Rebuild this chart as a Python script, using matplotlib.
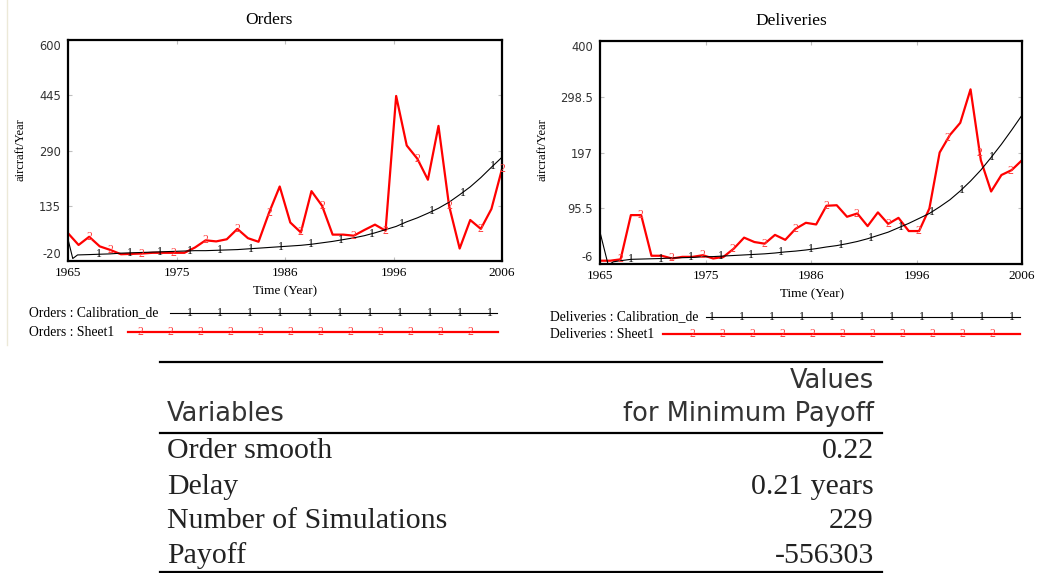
import numpy as np
import matplotlib
matplotlib.use("Agg")
import matplotlib.pyplot as plt

# ---- data ----
years = np.arange(1965, 2007)

orders_sheet = [58, 25, 48, 21, 11, -1, 0, 1, 3, 3,
                3, 3, 18, 38, 35, 41, 70, 44, 34, 116,
                189, 88, 60, 176, 135, 54, 54, 51, 67, 82,
                65, 443, 304, 267, 208, 359, 135, 15, 95, 70,
                126, 238]

calib_t = [1965, 1965.45, 1965.9] + list(range(1967, 2007))
orders_calib = [41, -13, -3,
                -2, -1, 0, 2, 3, 4, 5, 6, 7, 8,
                9, 9, 10, 11, 12, 14, 16, 18, 20, 22,
                24, 27, 31, 35, 40, 45, 51, 59, 68, 77,
                90, 101, 114, 128, 145, 166, 188, 214, 243, 271]

deliv_sheet = [0, 0, 2.5, 83, 83, 9, 9, 4, 7, 7,
               10, 4, 7, 22, 42, 34, 31, 47, 38, 58,
               69, 66, 100, 101, 80, 86, 63, 88, 67, 78,
               54, 54, 95, 197, 229, 251, 312, 183, 126, 156,
               165, 183]

deliv_calib_t = [1965, 1965.8, 1966.3] + list(range(1967, 2007))
deliv_calib = [52, -8, -2,
               0, 2.5, 3, 3.5, 4, 5, 5.5, 6, 7, 7.5,
               8.5, 9.5, 10.5, 11.5, 12.5, 14, 16, 17.5, 19.5, 22,
               25, 27.5, 31, 35, 40, 46, 52, 60, 68, 77,
               86, 98, 111, 127, 145, 165, 188, 212, 238, 265]

xtick_pos = [1965, 1975.25, 1985.5, 1995.75, 2006]
xtick_lbl = ["1965", "1975", "1986", "1996", "2006"]
orders_yticks = [-20, 135, 290, 445, 600]
orders_ylbl = ["-20", "135", "290", "445", "600"]
deliv_yticks = [-6, 95.5, 197, 298.5, 400]
deliv_ylbl = ["-6", "95.5", "197", "298.5", "400"]

table_vars = ["Order smooth", "Delay", "Number of Simulations", "Payoff"]
table_vals = ["0.22", "0.21 years", "229", "-556303"]

SERIF = "Liberation Serif"
W, H = 1041, 573
fig = plt.figure(figsize=(W / 100, H / 100), dpi=100)
fig.patch.set_facecolor("white")


def px_axes(l, t, r, b):
    return fig.add_axes([l / W, 1 - b / H, (r - l) / W, (b - t) / H])


def draw_panel(ax, t1, y1, m1, t2, y2, m2, yticks, ylbl):
    ax.plot(t1, y1, color="black", lw=0.8, zorder=3)
    ax.plot(t2, y2, color="#ff0000", lw=1.6, zorder=2)
    # vensim style number labels along the lines
    for m in m1:
        ax.text(m, np.interp(m, t1, y1), "1", color="black", fontsize=8.5,
                family=SERIF, ha="center", va="center", zorder=4)
    for m in m2:
        ax.text(m, np.interp(m, t2, y2), "2", color="#ff4040", fontsize=8.5,
                family=SERIF, ha="center", va="center", zorder=4)
    ax.set_xlim(1965, 2006)
    ax.set_ylim(yticks[0], yticks[-1])
    ax.set_xticks(xtick_pos)
    ax.set_xticklabels(xtick_lbl, family=SERIF, fontsize=9.5)
    ax.set_yticks(yticks)
    ax.set_yticklabels(ylbl, family="DejaVu Sans", fontsize=8.3, color="#333333")
    labs = ax.get_yticklabels()
    labs[0].set_va("bottom")
    labs[-1].set_va("top")
    ax.tick_params(direction="in", length=3, color="#c0c0c0", top=True, right=True, pad=5)
    ax.tick_params(axis="x", pad=4)
    for s in ax.spines.values():
        s.set_linewidth(1.6)


ax1 = px_axes(68, 40, 502, 261)
draw_panel(ax1, calib_t, orders_calib, np.arange(1967.94, 2006, 2.86),
           years, orders_sheet,
           [1967, 1969, 1971.9, 1975, 1978, 1981, 1984, 1987, 1989, 1992,
            1995, 1998, 2001, 2004, 2006],
           orders_yticks, orders_ylbl)

ax2 = px_axes(600, 41, 1022, 264)
draw_panel(ax2, deliv_calib_t, deliv_calib, np.arange(1968, 2004, 2.92),
           years, deliv_sheet,
           [1967, 1968.9, 1971.9, 1975, 1977.9, 1981, 1984, 1987, 1989.9,
            1993, 1995.9, 1998.8, 2001.9, 2004.9],
           deliv_yticks, deliv_ylbl)

# overlay in pixel coordinates for titles, legends and the table
ov = fig.add_axes([0, 0, 1, 1], zorder=-1)
ov.set_xlim(0, W)
ov.set_ylim(H, 0)
ov.axis("off")

ov.plot([7, 7], [0, 345], color="#ece9d8", lw=1)

ov.text(269, 20, "Orders", family=SERIF, fontsize=12.5, ha="center", va="center")
ov.text(791, 21, "Deliveries", family=SERIF, fontsize=12.5, ha="center", va="center")
ov.text(20, 150, "aircraft/Year", family=SERIF, fontsize=9, rotation=90, ha="center", va="center")
ov.text(543, 150, "aircraft/Year", family=SERIF, fontsize=9, rotation=90, ha="center", va="center")
ov.text(285, 291, "Time (Year)", family=SERIF, fontsize=9.5, ha="center", va="center")
ov.text(812, 294, "Time (Year)", family=SERIF, fontsize=9.5, ha="center", va="center")

# legends
legs = [
    (29, 313, "Orders : Calibration_de", 170, 497, np.arange(190, 495, 30), "1", "black", 0.8),
    (29, 332, "Orders : Sheet1", 128, 498, np.arange(140, 475, 30), "2", "#ff0000", 1.6),
    (550, 317, "Deliveries : Calibration_de", 706, 1020, np.arange(712, 1015, 30), "1", "black", 0.8),
    (550, 334, "Deliveries : Sheet1", 663, 1020, np.arange(692, 995, 30), "2", "#ff0000", 1.6),
]
for tx, ty, lbl, x0, x1, mk, ch, col, lw in legs:
    ov.text(tx, ty, lbl, family=SERIF, fontsize=9.8, ha="left", va="center")
    ov.plot([x0, x1], [ty, ty], color=col, lw=lw)
    for m in mk:
        ov.text(m, ty, ch, family=SERIF, fontsize=8.5, ha="center", va="center",
                color=col if ch == "1" else "#ff4040")

# table
for yy in [362, 433, 572]:
    ov.plot([160, 882], [yy, yy], color="black", lw=1.6)
hdr = dict(family="DejaVu Sans", fontsize=18.5, color="#333333", va="center")
ov.text(874, 381, "Values", ha="right", **hdr)
ov.text(167, 414, "Variables", ha="left", **hdr)
ov.text(874, 414, "for Minimum Payoff", ha="right", **hdr)
row_y = [451, 487, 521, 556]
for yy, name, val in zip(row_y, table_vars, table_vals):
    ov.text(167, yy, name, family=SERIF, fontsize=21.5, ha="left", va="center", color="#222222")
    ov.text(874, yy, val, family=SERIF, fontsize=21.5, ha="right", va="center", color="#222222")

fig.savefig("out.png", dpi=100)
